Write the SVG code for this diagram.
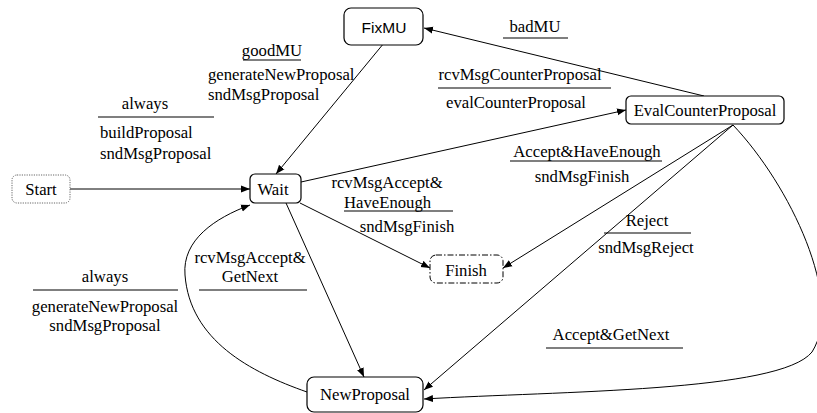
<svg xmlns="http://www.w3.org/2000/svg" width="817" height="413" viewBox="0 0 817 413">
<style>
.lbl{font-family:"Liberation Serif","Times New Roman",serif;font-size:16.7px;fill:#000}
.nodesans{font-family:"Liberation Sans",Arial,sans-serif;font-size:15.5px;fill:#000}
.box{fill:#fff;stroke:#000;stroke-width:1.2}
.conn{fill:none;stroke:#000;stroke-width:1}
.uline{stroke:#000;stroke-width:1.2}
</style>
<defs>
<marker id="ah" markerUnits="userSpaceOnUse" markerWidth="10" markerHeight="8" refX="9" refY="4" orient="auto">
<path d="M0,0.5 L9,4 L0,7.5 Z" fill="#000"/>
</marker>
</defs>
<rect width="817" height="413" fill="#fff"/>
<g id="connectors">
<path class="conn" d="M70,189 L250,189" marker-end="url(#ah)"/>
<path class="conn" d="M384,43 L276,174" marker-end="url(#ah)"/>
<path class="conn" d="M704,96 L424,28" marker-end="url(#ah)"/>
<path class="conn" d="M301,182 L626,110" marker-end="url(#ah)"/>
<path class="conn" d="M300,203 L430,268" marker-end="url(#ah)"/>
<path class="conn" d="M286,203 L364,377" marker-end="url(#ah)"/>
<path class="conn" d="M307,392 C250,372 190,340 185,275 C182,240 215,218 250,205" marker-end="url(#ah)"/>
<path class="conn" d="M733,125 L503,268" marker-end="url(#ah)"/>
<path class="conn" d="M733,125 L424,390" marker-end="url(#ah)"/>
<path class="conn" d="M733,125 C790,185 845,300 812,352 C780,392 560,391 424,399" marker-end="url(#ah)"/>
</g>
<g id="labels">
<text class="lbl" x="272" y="56" text-anchor="middle">goodMU</text>
<line class="uline" x1="243" y1="60" x2="301" y2="60"/>
<text class="lbl" x="208" y="80">generateNewProposal</text>
<text class="lbl" x="208" y="100">sndMsgProposal</text>
<text class="lbl" x="145" y="109" text-anchor="middle">always</text>
<line class="uline" x1="98" y1="117" x2="214" y2="117"/>
<text class="lbl" x="100" y="138">buildProposal</text>
<text class="lbl" x="100" y="159">sndMsgProposal</text>
<text class="lbl" x="535" y="32" text-anchor="middle">badMU</text>
<line class="uline" x1="503" y1="38" x2="568" y2="38"/>
<text class="lbl" x="520" y="80" text-anchor="middle">rcvMsgCounterProposal</text>
<line class="uline" x1="438" y1="88" x2="611" y2="88"/>
<text class="lbl" x="516" y="108" text-anchor="middle">evalCounterProposal</text>
<text class="lbl" x="587" y="157" text-anchor="middle">Accept&amp;HaveEnough</text>
<line class="uline" x1="510" y1="161" x2="662" y2="161"/>
<text class="lbl" x="582" y="182" text-anchor="middle">sndMsgFinish</text>
<text class="lbl" x="387" y="188" text-anchor="middle">rcvMsgAccept&amp;</text>
<text class="lbl" x="344" y="208">HaveEnough</text>
<line class="uline" x1="344" y1="211" x2="453" y2="211"/>
<text class="lbl" x="407" y="232" text-anchor="middle">sndMsgFinish</text>
<text class="lbl" x="647" y="226" text-anchor="middle">Reject</text>
<line class="uline" x1="604" y1="233" x2="691" y2="233"/>
<text class="lbl" x="646" y="253" text-anchor="middle">sndMsgReject</text>
<text class="lbl" x="611" y="340" text-anchor="middle">Accept&amp;GetNext</text>
<line class="uline" x1="546" y1="348" x2="683" y2="348"/>
<text class="lbl" x="105" y="282" text-anchor="middle">always</text>
<line class="uline" x1="33" y1="290" x2="178" y2="290"/>
<text class="lbl" x="105" y="312" text-anchor="middle">generateNewProposal</text>
<text class="lbl" x="105" y="331" text-anchor="middle">sndMsgProposal</text>
<text class="lbl" x="250" y="263" text-anchor="middle">rcvMsgAccept&amp;</text>
<text class="lbl" x="250" y="282" text-anchor="middle">GetNext</text>
<line class="uline" x1="199" y1="290" x2="307" y2="290"/>
</g>
<g id="FixMU">
<rect class="box" x="344" y="8" width="79" height="37" rx="7"/>
<text class="nodesans" x="384" y="33" text-anchor="middle">FixMU</text>
</g>
<g id="Start">
<rect x="12" y="175" width="58" height="28" rx="5" fill="#fff" stroke="#666" stroke-width="1" stroke-dasharray="1.2,1.2"/>
<text class="lbl" x="41" y="195" text-anchor="middle">Start</text>
</g>
<g id="Wait">
<rect class="box" x="250" y="174" width="51" height="29" rx="5"/>
<text class="lbl" x="273" y="195" text-anchor="middle">Wait</text>
</g>
<g id="EvalCounterProposal">
<rect class="box" x="626" y="96" width="158" height="28" rx="5"/>
<text class="lbl" x="705" y="116" text-anchor="middle">EvalCounterProposal</text>
</g>
<g id="Finish">
<rect x="430" y="255" width="73" height="28" rx="6" fill="#fff" stroke="#000" stroke-width="1" stroke-dasharray="6,2,1.5,2"/>
<text class="lbl" x="466" y="276" text-anchor="middle">Finish</text>
</g>
<g id="NewProposal">
<rect class="box" x="307" y="377" width="116" height="35" rx="7"/>
<text class="lbl" x="365" y="400" text-anchor="middle">NewProposal</text>
</g>
</svg>
